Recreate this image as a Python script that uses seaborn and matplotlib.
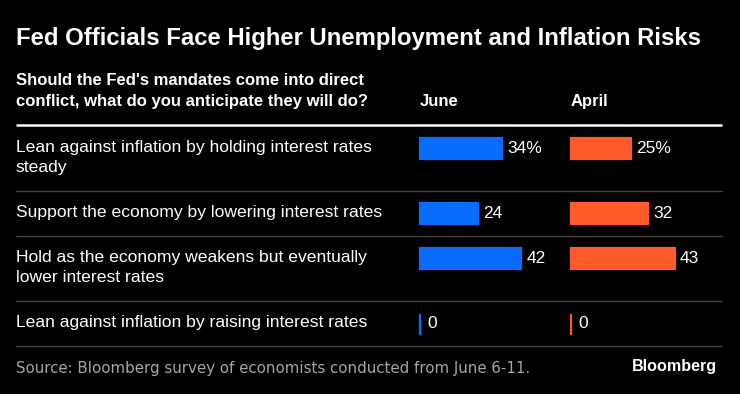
import numpy as np
import matplotlib
matplotlib.use("Agg")
import matplotlib.pyplot as plt
import seaborn as sns

# ---------------------------------------------------------
# Data
# ---------------------------------------------------------
questions = [
    "Lean against inflation by holding interest rates\nsteady",
    "Support the economy by lowering interest rates",
    "Hold as the economy weakens but eventually\nlower interest rates",
    "Lean against inflation by raising interest rates",
]
june = [34, 24, 42, 0]
april = [25, 32, 43, 0]
periods = ["June", "April"]

TITLE = "Fed Officials Face Higher Unemployment and Inflation Risks"
HEADER = "Should the Fed's mandates come into direct\nconflict, what do you anticipate they will do?"
SOURCE = "Source: Bloomberg survey of economists conducted from June 6-11."

# ---------------------------------------------------------
# Layout (pixels, measured from the top left)
# ---------------------------------------------------------
W, H = 740, 394
BLUE, ORANGE = "#0a6cff", "#ff5a2a"
PX_PER_UNIT = 2.41
BAR_H = 21
COL_X = [420, 571]
HEAD_LINE_Y = 125

n_lines = [q.count("\n") + 1 for q in questions]
row_h = [45 + 20.5 * (n - 1) for n in n_lines]
row_top = HEAD_LINE_Y + np.concatenate([[0], np.cumsum(row_h)[:-1]])
row_bottom = HEAD_LINE_Y + np.cumsum(row_h)
centers = row_top + 23

sns.set_style("dark")
plt.rcParams["font.family"] = ["Liberation Sans", "DejaVu Sans"]

fig = plt.figure(figsize=(W / 100, H / 100), dpi=100, facecolor="black")

# background axes in pixel coordinates for text and rules
bg = fig.add_axes([0, 0, 1, 1])
bg.set_xlim(0, W)
bg.set_ylim(H, 0)
bg.axis("off")

bg.text(16, 38, TITLE, color="white", fontsize=17.2, fontweight="bold",
        va="center", ha="left")
for i, line in enumerate(HEADER.split("\n")):
    bg.text(16, 80 + 21 * i, line, color="white", fontsize=12,
            fontweight="bold", va="center")
for x, p in zip(COL_X, periods):
    bg.text(x, 101, p, color="white", fontsize=12, fontweight="bold",
            va="center")

bg.plot([16, 722], [HEAD_LINE_Y, HEAD_LINE_Y], color="white", lw=1.8,
        solid_capstyle="butt")
for y in row_bottom:
    bg.plot([16, 722], [y, y], color="#444444", lw=1.0)

for q, top in zip(questions, row_top):
    for i, line in enumerate(q.split("\n")):
        bg.text(16, top + 22 + 20 * i, line, color="white", fontsize=12.6,
                va="center")

bg.text(16, 368, SOURCE, color="#a6a6a6", fontsize=10.8, family="DejaVu Sans",
        va="center")
bg.text(717, 367, "Bloomberg", color="white", fontsize=11.6, fontweight="bold",
        va="center", ha="right")

# ---------------------------------------------------------
# Bars
# ---------------------------------------------------------
width = BAR_H / np.min(np.diff(centers))
for x0, vals, color in zip(COL_X, [june, april], [BLUE, ORANGE]):
    ax = fig.add_axes([x0 / W, 0, 145 / W, 1])
    sns.barplot(x=vals, y=centers, orient="h", native_scale=True, width=width,
                color=color, edgecolor=color, linewidth=1.6, saturation=1,
                errorbar=None, ax=ax)
    # zero values are drawn as a thin edge line, keep it from being clipped
    for p in ax.patches:
        p.set_clip_on(False)
    ax.set_xlim(0, 145 / PX_PER_UNIT)
    ax.set_ylim(H, 0)
    ax.axis("off")
    for i, (v, c) in enumerate(zip(vals, centers)):
        lab = f"{v}%" if i == 0 else f"{v}"
        ax.annotate(lab, (v, c), xytext=(5 if v else 7, 0),
                    textcoords="offset pixels", color="white", fontsize=12.5,
                    va="center", ha="left")

fig.savefig("out.png", dpi=100, facecolor="black")
